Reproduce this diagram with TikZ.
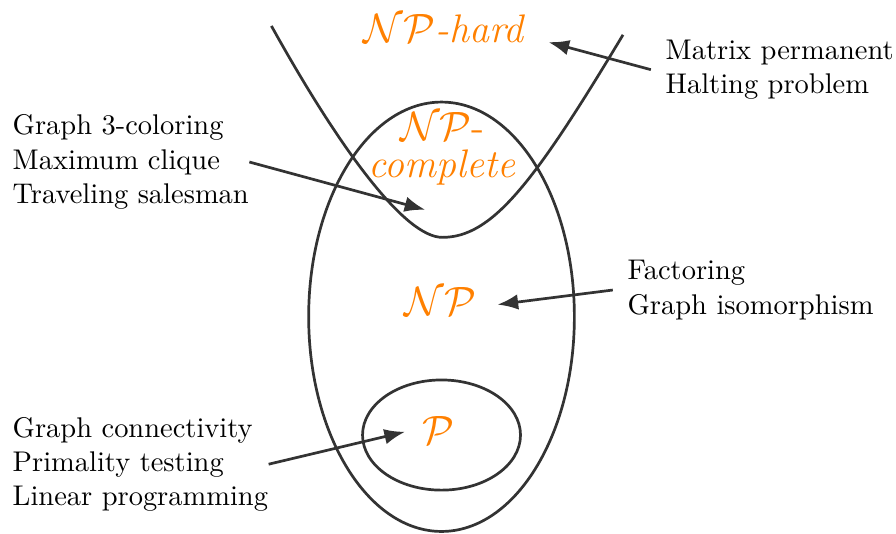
\documentclass[tikz,border=0pt]{standalone}
\usepackage{amsmath}
\usepackage{amssymb}
\usepackage{xcolor}
\usetikzlibrary{arrows.meta,positioning,calc}

\tikzset{
  cls/.style={orange, font=\fontsize{14}{16}\selectfont, align=center},
  probs/.style={align=left, inner sep=0pt, anchor=west},
  ptr/.style={-{Latex}, line width=0.95pt, black!80},
}

\begin{document}
\begin{tikzpicture}
  \useasboundingbox (0,0) rectangle (11.06,6.58);
  % classes
  \draw[line width=0.95pt, black!80] (5.45,2.67) ellipse (1.64 and 2.65);
  \draw[line width=0.95pt, black!80] (5.45,1.21) ellipse (0.975 and 0.68);
  \draw[line width=0.95pt, black!80] (3.35,6.26) .. controls (4.20,4.73) and (5.00,3.65) .. (5.46,3.65)
    .. controls (6.07,3.65) and (6.58,4.30) .. (7.69,6.15);
  \node[cls] (nph) at (5.49,6.23) {$\mathcal{NP}$\textit{-hard}};
  \node[cls] (npc) at (5.46,4.74) {$\mathcal{NP}$-\\[-3pt]\textit{complete}};
  \node[cls] (np)  at (5.44,2.86) {$\mathcal{NP}$};
  \node[cls] (p)   at (5.41,1.26) {$\mathcal{P}$};
  % problems
  \node[probs] (hard) at (8.21,5.72) {Matrix permanent\\Halting problem};
  \node[probs] (comp) at (0.15,4.58) {Graph 3-coloring\\Maximum clique\\Traveling salesman};
  \node[probs] (mid)  at (7.74,3.00) {Factoring\\Graph isomorphism};
  \node[probs] (poly) at (0.15,0.85) {Graph connectivity\\Primality testing\\Linear programming};
  % pointers
  \coordinate (nphin) at (6.77,6.06);
  \coordinate (npcin) at (5.25,3.99);
  \coordinate (npin)  at (6.14,2.82);
  \coordinate (pin)   at (5.00,1.25);
  \draw[ptr] ([xshift=-5pt]hard.west) -- (nphin);
  \draw[ptr] (comp.east) -- (npcin);
  \draw[ptr] ([xshift=-5pt]mid.west) -- (npin);
  \draw[ptr] (poly.east) -- (pin);
\end{tikzpicture}
\end{document}
